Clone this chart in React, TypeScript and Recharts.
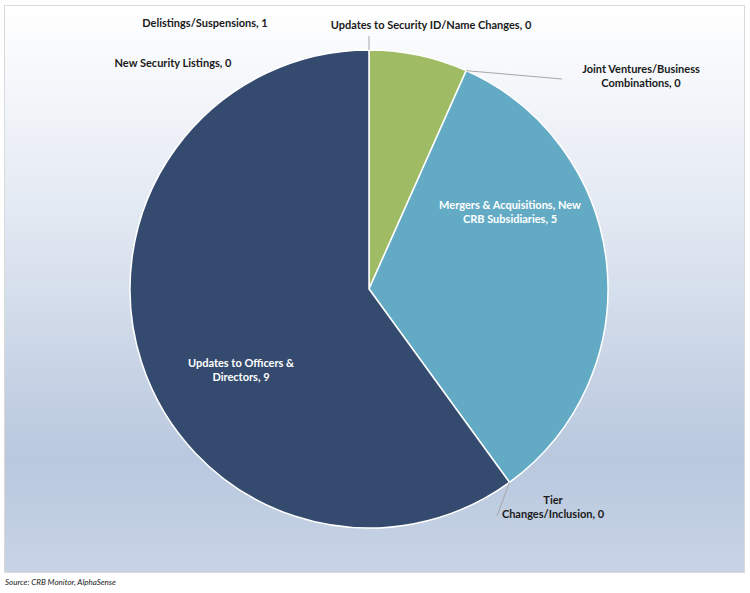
import { PieChart, Pie, Cell } from "recharts";

const categories = [
  "Delistings/Suspensions",
  "Joint Ventures/Business Combinations",
  "Mergers & Acquisitions, New CRB Subsidiaries",
  "Tier Changes/Inclusion",
  "Updates to Officers & Directors",
  "New Security Listings",
  "Updates to Security ID/Name Changes",
];
const counts = [1, 0, 5, 0, 9, 0, 0];
const colors = ["#9fbb63", "#63abc5", "#63abc5", "#63abc5", "#344b6f", "#344b6f", "#344b6f"];

// label text lines, split like the original
const labelLines: Record<string, string[]> = {
  "Delistings/Suspensions": ["Delistings/Suspensions, 1"],
  "Joint Ventures/Business Combinations": ["Joint Ventures/Business", "Combinations, 0"],
  "Mergers & Acquisitions, New CRB Subsidiaries": ["Mergers & Acquisitions, New", "CRB Subsidiaries, 5"],
  "Tier Changes/Inclusion": ["Tier", "Changes/Inclusion, 0"],
  "Updates to Officers & Directors": ["Updates to Officers &", "Directors, 9"],
  "New Security Listings": ["New Security Listings, 0"],
  "Updates to Security ID/Name Changes": ["Updates to Security ID/Name Changes, 0"],
};

// label placement relative to pie centre (text centre, optional leader end)
const placement: Record<string, { dx: number; dy: number; inside?: boolean; lx?: number; ly?: number }> = {
  "Delistings/Suspensions": { dx: -164, dy: -267 },
  "Joint Ventures/Business Combinations": { dx: 272, dy: -221, lx: 193, ly: -210 },
  "Mergers & Acquisitions, New CRB Subsidiaries": { dx: 141, dy: -85, inside: true },
  "Tier Changes/Inclusion": { dx: 184, dy: 210, lx: 128, ly: 227 },
  "Updates to Officers & Directors": { dx: -128, dy: 73, inside: true },
  "New Security Listings": { dx: -196, dy: -227 },
  "Updates to Security ID/Name Changes": { dx: 62, dy: -265, lx: 0, ly: -253 },
};

const data = categories.map((name, i) => ({ name, value: counts[i] }));

const RAD = Math.PI / 180;

function renderLabel(props: any) {
  const { cx, cy, midAngle, outerRadius, name } = props;
  const p = placement[name];
  if (!p) return null;
  const lines = labelLines[name];
  const sx = cx + outerRadius * Math.cos(-midAngle * RAD);
  const sy = cy + outerRadius * Math.sin(-midAngle * RAD);
  return (
    <g key={name}>
      {p.lx !== undefined && (
        <line x1={sx} y1={sy} x2={cx + p.lx} y2={cy + (p.ly as number)} stroke="#a6a6a6" strokeWidth={1} />
      )}
      <text
        x={cx + p.dx}
        y={cy + p.dy}
        textAnchor="middle"
        dominantBaseline="central"
        fill={p.inside ? "#ffffff" : "#1a1a1a"}
        fontSize={11}
        fontWeight="bold"
        fontFamily="Lato, 'Open Sans', sans-serif"
      >
        {lines.map((l, i) => (
          <tspan key={i} x={cx + p.dx} dy={i === 0 ? 0 : 14}>
            {l}
          </tspan>
        ))}
      </text>
    </g>
  );
}

export default function App() {
  return (
    <div style={{ position: "absolute", left: 0, top: 0, width: 750, height: 593, background: "#ffffff" }}>
      <div
        style={{
          position: "absolute",
          left: 4,
          top: 5,
          width: 739,
          height: 566,
          border: "1px solid #d9d9d9",
          background: "linear-gradient(to bottom, #ffffff 0%, #e4eaf3 35%, #b9c8de 80%, #c8d4e6 100%)",
        }}
      >
        <PieChart width={739} height={566} margin={{ top: 0, right: 0, bottom: 0, left: 0 }}>
          <Pie
            data={data}
            dataKey="value"
            nameKey="name"
            cx={364}
            cy={283}
            outerRadius={239}
            startAngle={90}
            endAngle={-270}
            stroke="#ffffff"
            strokeWidth={1.5}
            label={renderLabel}
            labelLine={false}
            isAnimationActive={false}
          >
            {data.map((d, i) => (
              <Cell key={d.name} fill={colors[i]} />
            ))}
          </Pie>
        </PieChart>
      </div>
      <div
        style={{
          position: "absolute",
          left: 5,
          top: 577,
          fontFamily: "Lato, sans-serif",
          fontStyle: "italic",
          fontSize: 8,
          color: "#1a1a1a",
        }}
      >
        Source: CRB Monitor, AlphaSense
      </div>
    </div>
  );
}
